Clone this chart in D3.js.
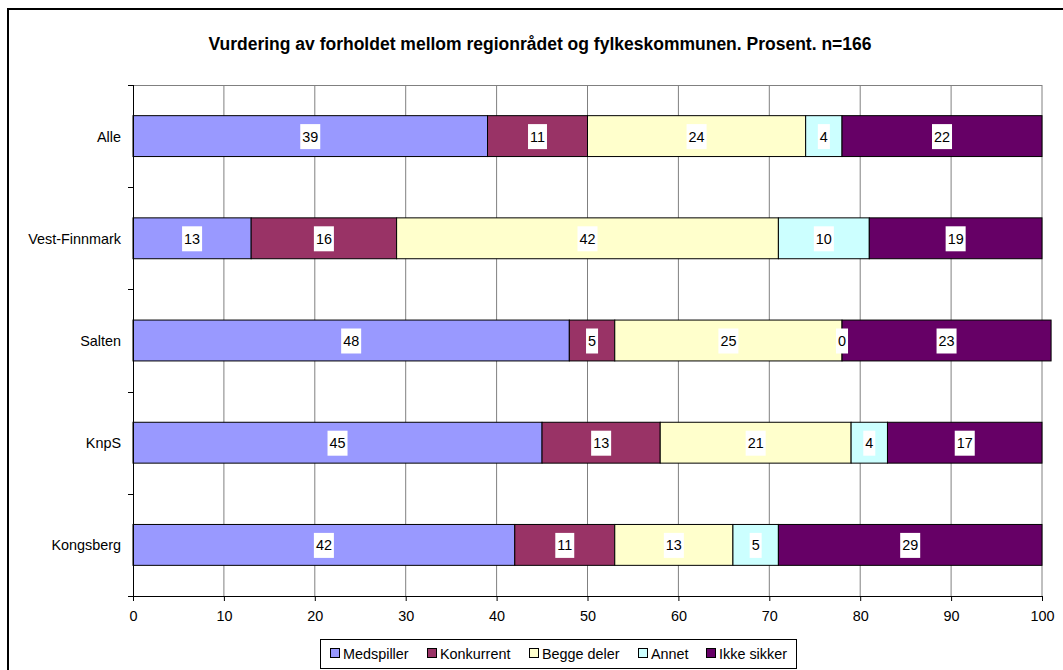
<!DOCTYPE html>
<html><head><meta charset="utf-8">
<script src="https://cdn.jsdelivr.net/npm/d3@7"></script>
<style>
body{margin:0;background:#fff;}
text{font-family:"Liberation Sans",Arial,sans-serif;}
</style></head>
<body><svg id="c" width="1063" height="670"></svg>
<script>
const categories = ["Alle","Vest-Finnmark","Salten","KnpS","Kongsberg"];
const seriesNames = ["Medspiller","Konkurrent","Begge deler","Annet","Ikke sikker"];
const medspiller = [39,13,48,45,42];
const konkurrent = [11,16,5,13,11];
const beggeDeler = [24,42,25,21,13];
const annet = [4,10,0,4,5];
const ikkeSikker = [22,19,23,17,29];
const xTicks = [0,10,20,30,40,50,60,70,80,90,100];
const colors = ["#9999FF","#993366","#FFFFCC","#CCFFFF","#660066"];
const title = "Vurdering av forholdet mellom regionrådet og fylkeskommunen. Prosent. n=166";

const FS="14.4px";
const svg = d3.select("#c");
const m={left:133,right:1042,top:85,bottom:596};

svg.append("rect").attr("x",8).attr("y",9).attr("width",1060).attr("height",670)
  .attr("fill","#fff").attr("stroke","#000").attr("stroke-width",2);

svg.append("text").attr("x",540).attr("y",50).attr("text-anchor","middle")
  .attr("font-size","17.5px").attr("font-weight","bold").text(title);

const x=d3.scaleLinear().domain([0,100]).range([m.left,m.right]);
const y=d3.scaleBand().domain(categories).range([m.top,m.bottom]).paddingInner(0.6).paddingOuter(0.3);
const yb=d3.scaleBand().domain(categories).range([m.top,m.bottom]);

// gridlines
svg.append("g").selectAll("line").data(xTicks.slice(1)).join("line")
  .attr("x1",d=>x(d)).attr("x2",d=>x(d)).attr("y1",m.top).attr("y2",m.bottom)
  .attr("stroke","#808080").attr("stroke-width",1);
svg.append("line").attr("x1",m.left).attr("x2",m.right).attr("y1",m.top+0.5).attr("y2",m.top+0.5)
  .attr("stroke","#808080");

const data = [medspiller,konkurrent,beggeDeler,annet,ikkeSikker];
const rows = categories.map((c,ci)=>{const r={cat:c};seriesNames.forEach((s,si)=>r[s]=data[si][ci]);return r;});
const stack=d3.stack().keys(seriesNames)(rows);

const gBars=svg.append("g");
stack.forEach((layer,li)=>{
  gBars.append("g").selectAll("rect").data(layer).join("rect")
    .attr("x",d=>x(d[0])).attr("width",d=>x(d[1])-x(d[0]))
    .attr("y",d=>y(d.data.cat)).attr("height",y.bandwidth())
    .attr("fill",colors[li]).attr("stroke","#000").attr("stroke-width",1);
});
// labels
stack.forEach((layer,li)=>{
  const g=gBars.append("g");
  layer.forEach(d=>{
    const v=d[1]-d[0];
    const cx=(x(d[0])+x(d[1]))/2, cy=y(d.data.cat)+y.bandwidth()/2;
    const t=g.append("text").attr("x",cx).attr("y",cy+5.5).attr("text-anchor","middle")
      .attr("font-size",FS).attr("fill","#000").text(v);
    const bb=t.node().getBBox();
    g.insert("rect","text").attr("x",bb.x-2).attr("y",cy-12).attr("width",bb.width+4).attr("height",25).attr("fill","#fff");
  });
});

// axes
const xAxis=svg.append("g").attr("transform",`translate(0,${m.bottom})`)
  .call(d3.axisBottom(x).tickValues(xTicks).tickSize(5).tickPadding(10));
xAxis.select(".domain").attr("stroke","#000");
xAxis.selectAll("line").attr("stroke","#000");
xAxis.selectAll("text").attr("font-size",FS).attr("font-family","Liberation Sans, Arial, sans-serif").attr("fill","#000");

svg.append("line").attr("x1",m.left+0.5).attr("x2",m.left+0.5).attr("y1",m.top).attr("y2",m.bottom).attr("stroke","#000");
const bounds=[m.top,...categories.map(c=>yb(c)+yb.bandwidth())];
svg.append("g").selectAll("line").data(bounds).join("line")
  .attr("x1",m.left-5).attr("x2",m.left).attr("y1",d=>Math.round(d)+0.5).attr("y2",d=>Math.round(d)+0.5).attr("stroke","#000");
svg.append("g").selectAll("text").data(categories).join("text")
  .attr("x",121).attr("y",d=>y(d)+y.bandwidth()/2+5.5).attr("text-anchor","end")
  .attr("font-size",FS).text(d=>d);

// legend
const lg=svg.append("g");
lg.append("rect").attr("x",320.5).attr("y",639.5).attr("width",476).attr("height",29).attr("fill","#fff").attr("stroke","#000");
const lx=[330,427,529,638,706];
seriesNames.forEach((s,i)=>{
  lg.append("rect").attr("x",lx[i]+0.5).attr("y",648.5).attr("width",9).attr("height",9).attr("fill",colors[i]).attr("stroke","#000");
  lg.append("text").attr("x",lx[i]+13).attr("y",659).attr("font-size",FS).text(s);
});
</script></body></html>
